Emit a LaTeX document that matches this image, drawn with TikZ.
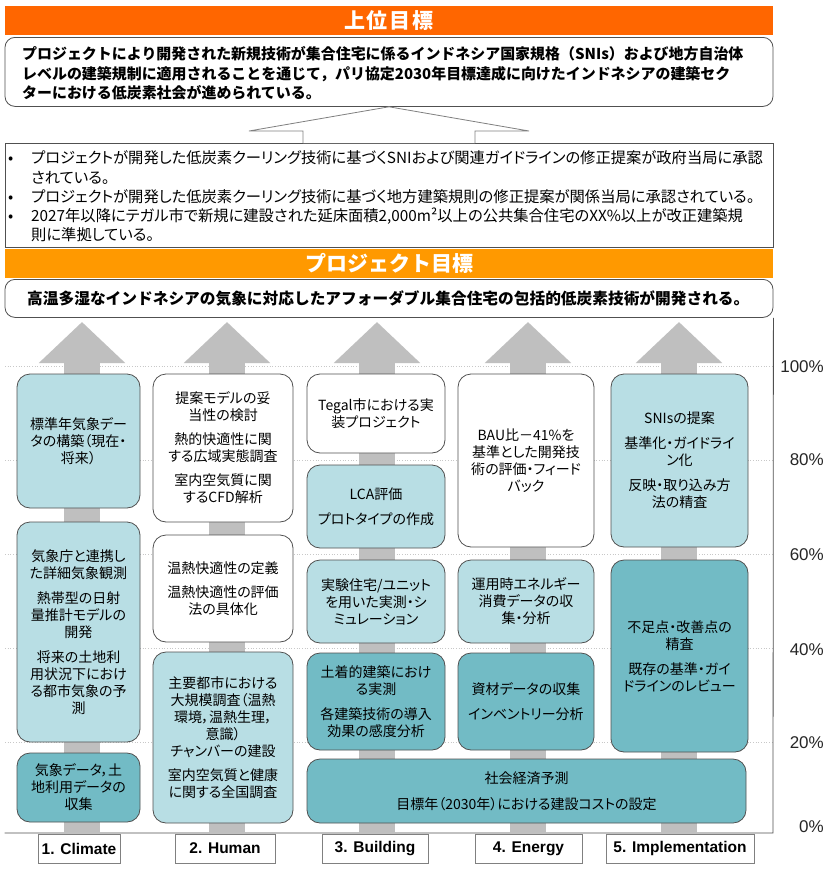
\documentclass[tikz,border=0pt]{standalone}
\usepackage{fontspec}
\setmainfont{Noto Sans CJK JP}
\newfontfamily\jpp{Noto Sans CJK JP}[RawFeature=+palt]
\newfontfamily\arialf{Liberation Sans}
\usetikzlibrary{calc,arrows.meta}
\definecolor{orangeA}{HTML}{FF6600}
\definecolor{orangeB}{HTML}{FF9900}
\definecolor{tealL}{HTML}{B8DEE4}
\definecolor{tealD}{HTML}{72BBC5}
\definecolor{arrowgray}{HTML}{BFBFBF}
\definecolor{edgegray}{HTML}{505050}
\definecolor{gridgray}{HTML}{C8C8C8}
\tikzset{
  banner/.style={minimum width=768pt, inner sep=0pt, text=white, font=\bfseries\fontsize{21}{24}\selectfont},
  goalbox/.style={draw=edgegray, line width=0.8pt, rounded corners=10pt, fill=white, minimum width=768pt, inner sep=0pt},
  goaltext/.style={inner sep=0pt, align=left, font=\bfseries\fontsize{14.95}{19.5}\selectfont},
  colbox/.style={draw=edgegray, line width=0.8pt, rounded corners=13pt, inner sep=0pt, align=center, font=\jpp\fontsize{14}{17}\selectfont},
  whitebox/.style={colbox, fill=white},
  lightbox/.style={colbox, fill=tealL},
  darkbox/.style={colbox, fill=tealD},
  colarrow/.style={arrowgray, line width=36pt, -{Triangle[width=84pt,length=41pt]}},
  outline/.style={draw=gray, line width=0.8pt, fill=white},
  gridline/.style={gridgray, dotted, line width=0.7pt},
  frameline/.style={draw=edgegray, line width=0.8pt},
  labbox/.style={draw=gray, line width=0.6pt, fill=white, minimum height=29pt, inner sep=0pt, font=\arialf\bfseries\fontsize{15.5}{16}\selectfont},
  pct/.style={anchor=east, inner sep=0pt, font=\arialf\fontsize{17}{17}\selectfont, text=black!85}
}
\begin{document}
\begin{tikzpicture}[x=1pt,y=-1pt]
\useasboundingbox (0,0) rectangle (831,870);
\fill[white] (0,0) rectangle (831,870);

% ---- top goal
\node[banner, fill=orangeA, minimum height=29pt] (b1) at (389,20.5) {上\kern2pt 位\kern2pt 目\kern2pt 標};
\node[goalbox, minimum height=69pt, anchor=north] (top) at (389,37) {};
\node[goaltext, anchor=west] (toptext) at (22,73.5) {プロジェクトにより開発された新規技術が集合住宅に係るインドネシア国家規格（SNIs）および地方自治体\\レベルの建築規制に適用されることを通じて，パリ協定2030年目標達成に向けたインドネシアの建築セク\\ターにおける低炭素社会が進められている。};

% ---- outcomes
\node[draw=edgegray, line width=0.8pt, fill=white, minimum width=768pt, minimum height=104pt, inner sep=0pt, anchor=north] (out) at (389,143) {};
\node[inner sep=0pt, align=left, anchor=west, font=\jpp\fontsize{15.3}{19.3}\selectfont] (outtext) at (8,196.5) {\makebox[23pt][l]{•}プロジェクトが開発した低炭素クーリング技術に基づくSNIおよび関連ガイドラインの修正提案が政府当局に承認\\\hspace*{23pt}されている。\\\makebox[23pt][l]{•}プロジェクトが開発した低炭素クーリング技術に基づく地方建築規則の修正提案が関係当局に承認されている。\\\makebox[23pt][l]{•}2027年以降にテガル市で新規に建設された延床面積2,000m²以上の公共集合住宅のXX\%以上が改正建築規\\\hspace*{23pt}則に準拠している。};

% big outline arrow from outcomes to top goal
\draw[outline] ($(out.north)+(-86,0)$) -- ++(0,-12) -- ++(-54,0) -- (top.south) -- ($(out.north)+(140,-12)$) -- ++(-54,0) -- ($(out.north)+(86,0)$);

% ---- project purpose
\node[banner, fill=orangeB, minimum height=29pt] (b2) at (389,263.5) {プロジェクト目標};
\node[goalbox, minimum height=38pt, anchor=north] (obj) at (389,279) {};
\node[goaltext, anchor=west, font=\bfseries\fontsize{15.7}{19}\selectfont] (objtext) at (27,298.5) {高温多湿なインドネシアの気象に対応したアフォーダブル集合住宅の包括的低炭素技術が開発される。};

% ---- grid lines
\foreach \yy in {366,460,554,648,742} {\draw[gridline] (5,\yy) -- (773,\yy);}

% ---- frame
\coordinate (fr) at (773,833);
\draw[frameline] (obj.south east) -- (fr) -- (fr -| obj.west);

% ---- column arrows
\foreach \cx/\nm in {82/a,227/b,377/c,528/d,679/e} {
  \coordinate (\nm bot) at (\cx,833);
  \coordinate (\nm tip) at (\cx,322);
  \draw[colarrow] (\nm bot) -- (\nm tip);
}

% ---- column 1
\node[lightbox, minimum width=123pt, minimum height=134pt] (A1) at (78.5,441) {標準年気象デー\\タの構築（現在・\\将来）};
\node[lightbox, minimum width=123pt, minimum height=220pt] (B1) at (78.5,632) {気象庁と連携し\\た詳細気象観測\\[8pt]熱帯型の日射\\量推計モデルの\\開発\\[8pt]将来の土地利\\用状況下におけ\\る都市気象の予\\測};
\node[darkbox, minimum width=123pt, minimum height=69pt] (C1) at (78.5,787.5) {気象データ，土\\地利用データの\\収集};

% ---- column 2
\node[whitebox, minimum width=140pt, minimum height=148pt] (A2) at (223,448) {提案モデルの妥\\当性の検討\\[7pt]熱的快適性に関\\する広域実態調査\\[7pt]室内空気質に関\\するCFD解析};
\node[whitebox, minimum width=140pt, minimum height=107pt] (B2) at (223,588.5) {温熱快適性の定義\\[7pt]温熱快適性の評価\\法の具体化};
\node[lightbox, minimum width=140pt, minimum height=171pt] (C2) at (223,737.5) {主要都市における\\大規模調査（温熱\\環境，温熱生理，\\意識）\\チャンバーの建設\\[7pt]室内空気質と健康\\に関する全国調査};

% ---- column 3
\node[whitebox, minimum width=138pt, minimum height=79pt] (A3) at (376,413.5) {Tegal市における実\\装プロジェクト};
\node[lightbox, minimum width=138pt, minimum height=83pt] (B3) at (376,506.5) {LCA評価\\[8pt]プロトタイプの作成};
\node[lightbox, minimum width=138pt, minimum height=83pt] (C3) at (376,601.5) {実験住宅/ユニット\\を用いた実測・シ\\ミュレーション};
\node[darkbox, minimum width=138pt, minimum height=97pt] (D3) at (376,701.5) {土着的建築におけ\\る実測\\[8pt]各建築技術の導入\\効果の感度分析};
\node[darkbox, minimum width=439pt, minimum height=64pt] (E) at (526.5,791) {社会経済予測\\[9pt]目標年（2030年）における建設コストの設定};

% ---- column 4
\node[whitebox, minimum width=136pt, minimum height=173pt] (A4) at (526,460.5) {BAU比－41\%を\\基準とした開発技\\術の評価・フィード\\バック};
\node[lightbox, minimum width=136pt, minimum height=83pt] (B4) at (526,601.5) {運用時エネルギー\\消費データの収\\集・分析};
\node[darkbox, minimum width=136pt, minimum height=97pt] (C4) at (526,701.5) {資材データの収集\\[8pt]インベントリー分析};

% ---- column 5
\node[lightbox, minimum width=137pt, minimum height=173pt] (A5) at (679.5,460.5) {SNIsの提案\\[8pt]基準化・ガイドライ\\ン化\\[8pt]反映・取り込み方\\法の精査};
\node[darkbox, minimum width=137pt, minimum height=192pt] (B5) at (679.5,656) {不足点・改善点の\\精査\\[8pt]既存の基準・ガイ\\ドラインのレビュー};

% ---- bottom labels
\node[labbox, minimum width=82pt] (L1) at (79,848.5) {1. Climate};
\node[labbox, minimum width=100pt] (L2) at (225,848.5) {2. Human};
\node[labbox, minimum width=106pt] (L3) at (375,848.5) {3. Building};
\node[labbox, minimum width=107pt] (L4) at (528.5,848.5) {4. Energy};
\node[labbox, minimum width=148pt] (L5) at (680,848.5) {5. Implementation};

% ---- percent axis
\node[pct] (p100) at (824,367) {100\%};
\node[pct] (p80) at (824,460) {80\%};
\node[pct] (p60) at (824,555) {60\%};
\node[pct] (p40) at (824,650) {40\%};
\node[pct] (p20) at (824,743) {20\%};
\node[pct] (p0) at (824,827) {0\%};
\end{tikzpicture}
\end{document}
